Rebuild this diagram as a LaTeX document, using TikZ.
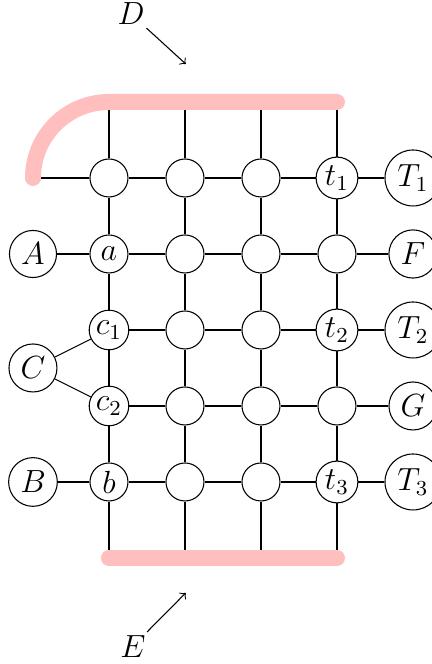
\documentclass[tikz,border=0pt]{standalone}
\usepackage{amsmath,amssymb}
\usepackage{xcolor}
\usetikzlibrary{positioning}

\begin{document}
\begin{tikzpicture}[
    node distance=1cm, on grid,
    cell/.style={circle, draw, minimum size=0.5cm, inner sep=1pt, font=\large},
    port/.style={circle, draw, inner sep=2pt, font=\large},
    tag/.style={inner sep=1pt, font=\large},
    band/.style={draw=red!25, line width=6pt, line cap=round},
    arrow/.style={->}
]
    \useasboundingbox (-1.434,-6.395) rectangle (4.25,2.342);

    % Grid
    \node[cell] (g00) at (0,0) {};
    \node[cell, right=of g00] (g01) {};
    \node[cell, right=of g01] (g02) {};
    \node[cell, right=of g02] (g03) {$t_1$};
    \node[cell, below=of g00] (g10) {$a$};
    \node[cell, right=of g10] (g11) {};
    \node[cell, right=of g11] (g12) {};
    \node[cell, right=of g12] (g13) {};
    \node[cell, below=of g10] (g20) {$c_1$};
    \node[cell, right=of g20] (g21) {};
    \node[cell, right=of g21] (g22) {};
    \node[cell, right=of g22] (g23) {$t_2$};
    \node[cell, below=of g20] (g30) {$c_2$};
    \node[cell, right=of g30] (g31) {};
    \node[cell, right=of g31] (g32) {};
    \node[cell, right=of g32] (g33) {};
    \node[cell, below=of g30] (g40) {$b$};
    \node[cell, right=of g40] (g41) {};
    \node[cell, right=of g41] (g42) {};
    \node[cell, right=of g42] (g43) {$t_3$};

    % Ports
    \node[port, left=of g10] (A) {$A$};
    \node[port, left=of g20, yshift=-0.5cm] (C) {$C$};
    \node[port, left=of g40] (B) {$B$};
    \node[port, right=of g03] (T1) {$T_1$};
    \node[port, right=of g13] (F) {$F$};
    \node[port, right=of g23] (T2) {$T_2$};
    \node[port, right=of g33] (G) {$G$};
    \node[port, right=of g43] (T3) {$T_3$};

    % Ends
    \coordinate[left=of g00] (w0);
    \coordinate[above=of g00] (u0);
    \coordinate[above=of g01] (u1);
    \coordinate[above=of g02] (u2);
    \coordinate[above=of g03] (u3);
    \coordinate[below=of g40] (d0);
    \coordinate[below=of g41] (d1);
    \coordinate[below=of g42] (d2);
    \coordinate[below=of g43] (d3);

    % Rows
    \draw (w0) -- (g00) -- (g01) -- (g02) -- (g03) -- (T1);
    \draw (A) -- (g10) -- (g11) -- (g12) -- (g13) -- (F);
    \draw (g20) -- (g21) -- (g22) -- (g23) -- (T2);
    \draw (g30) -- (g31) -- (g32) -- (g33) -- (G);
    \draw (B) -- (g40) -- (g41) -- (g42) -- (g43) -- (T3);
    \draw (C) -- (g20);
    \draw (C) -- (g30);

    % Columns
    \draw (u0) -- (g00) -- (g10) -- (g20) -- (g30) -- (g40) -- (d0);
    \draw (u1) -- (g01) -- (g11) -- (g21) -- (g31) -- (g41) -- (d1);
    \draw (u2) -- (g02) -- (g12) -- (g22) -- (g32) -- (g42) -- (d2);
    \draw (u3) -- (g03) -- (g13) -- (g23) -- (g33) -- (g43) -- (d3);

    % Bands
    \draw[band] (w0) arc[start angle=180, end angle=90, radius=1cm] -- (u3);
    \draw[band] (d0) -- (d3);

    % Labels
    \node[tag] (D) at (0.29,2.158) {$D$};
    \coordinate (pD) at (1.01,1.5);
    \draw[arrow] (D) -- (pD);
    \node[tag] (E) at (0.316,-6.16) {$E$};
    \coordinate (pE) at (1.01,-5.46);
    \draw[arrow] (E) -- (pE);
\end{tikzpicture}
\end{document}
